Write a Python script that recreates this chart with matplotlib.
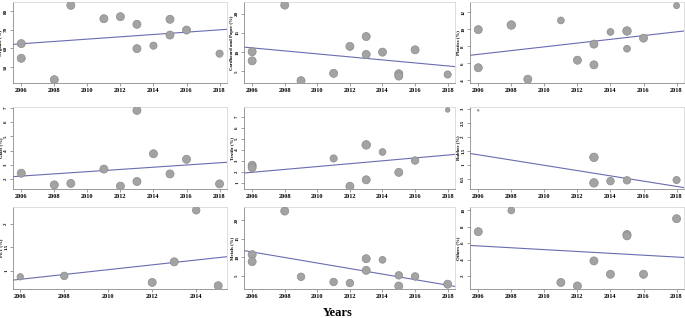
import numpy as np
import matplotlib
matplotlib.use("Agg")
import matplotlib.pyplot as plt

# values
organic_years = [2006, 2006, 2008, 2009, 2011, 2012, 2013, 2013, 2014, 2015, 2015, 2016, 2018]
organic_vals = [62.6, 54.7, 43.2, 83.2, 76.0, 77.1, 73.0, 59.9, 61.5, 75.7, 67.2, 69.9, 57.2]
organic_sizes = [25, 25, 25, 25, 25, 25, 25, 25, 20, 25, 25, 25, 20]
organic_trend = [62.2, 70.3]

paper_years = [2006, 2006, 2008, 2009, 2011, 2012, 2013, 2013, 2014, 2015, 2015, 2016, 2018]
paper_vals = [10.1, 7.75, 22.2, 2.6, 4.5, 11.5, 14.05, 9.4, 10.0, 4.4, 3.8, 10.6, 4.2]
paper_sizes = [25, 25, 25, 25, 25, 25, 25, 25, 25, 25, 25, 25, 20]
paper_trend = [11.3, 6.25]

plastic_years = [2006, 2006, 2008, 2009, 2011, 2012, 2013, 2013, 2014, 2015, 2015, 2016, 2018]
plastic_vals = [9.96, 5.49, 10.5, 4.14, 11.04, 6.37, 8.26, 5.83, 9.69, 9.80, 7.72, 8.96, 12.77]
plastic_sizes = [25, 25, 28, 25, 18, 25, 25, 25, 18, 28, 18, 25, 14]
plastic_trend = [6.95, 9.80]

glass_years = [2006, 2008, 2009, 2011, 2012, 2013, 2013, 2014, 2015, 2016, 2018]
glass_vals = [2.41, 1.59, 1.69, 2.70, 1.50, 6.83, 1.83, 3.78, 2.36, 3.39, 1.66]
glass_sizes = [25] * 11
glass_trend = [2.17, 3.18]

textile_years = [2006, 2006, 2011, 2012, 2013, 2013, 2014, 2015, 2016, 2018]
textile_vals = [2.61, 2.39, 3.23, 0.69, 4.47, 1.28, 3.82, 1.96, 3.04, 7.66]
textile_sizes = [25, 25, 20, 25, 28, 25, 18, 25, 22, 8]
textile_trend = [1.90, 3.60]

rubber_years = [2006, 2013, 2013, 2014, 2015, 2018]
rubber_vals = [2.94, 1.26, 0.35, 0.41, 0.44, 0.45]
rubber_sizes = [1, 28, 28, 22, 22, 20]
rubber_trend = [1.40, 0.18]

pet_years = [2006, 2008, 2012, 2013, 2014, 2015]
pet_vals = [0.87, 0.89, 0.75, 1.19, 2.29, 0.68]
pet_sizes = [16, 22, 25, 25, 22, 25]
pet_trend = [0.80, 1.30]

metal_years = [2006, 2006, 2008, 2009, 2011, 2012, 2013, 2013, 2014, 2015, 2015, 2016, 2018]
metal_vals = [10.7, 8.8, 22.5, 4.7, 3.3, 3.0, 9.6, 6.45, 9.3, 5.1, 2.2, 4.8, 2.7]
metal_sizes = [25, 25, 25, 22, 22, 22, 25, 25, 18, 22, 25, 22, 25]
metal_trend = [11.8, 2.1]

other_years = [2006, 2008, 2011, 2012, 2013, 2014, 2015, 2015, 2016, 2018]
other_vals = [7.38, 9.96, 1.21, 0.79, 3.83, 2.21, 7.04, 6.88, 2.21, 8.96]
other_sizes = [25, 18, 25, 25, 25, 25, 25, 25, 25, 25]
other_trend = [5.71, 4.25]

ylabels = ["Organic (%)", "Cardboard and Paper (%)", "Plastics (%)",
           "Glass (%)", "Textile (%)", "Rubber (%)",
           "PET (%)", "Metals (%)", "Others (%)"]
yticks = [[50, 60, 70, 80], [5, 10, 15, 20], [4, 6, 8, 10, 12],
          [2, 3, 4, 5, 6, 7], [1, 2, 3, 4, 5, 6, 7], [0.5, 1.0, 1.5, 2.0, 2.5, 3.0],
          [1, 1.5, 2], [5, 10, 15, 20], [2, 4, 6, 8, 10]]
ylims = [(41.4, 85.0), (2.0, 23.0), (3.7, 13.2),
         (1.3, 7.07), (0.44, 7.93), (0.13, 3.06),
         (0.61, 2.36), (1.4, 23.6), (0.42, 10.38)]
xticks_all = [2006, 2008, 2010, 2012, 2014, 2016, 2018]
xticks_pet = [2006, 2008, 2010, 2012, 2014]

panels = [
    (organic_years, organic_vals, organic_sizes, organic_trend),
    (paper_years, paper_vals, paper_sizes, paper_trend),
    (plastic_years, plastic_vals, plastic_sizes, plastic_trend),
    (glass_years, glass_vals, glass_sizes, glass_trend),
    (textile_years, textile_vals, textile_sizes, textile_trend),
    (rubber_years, rubber_vals, rubber_sizes, rubber_trend),
    (pet_years, pet_vals, pet_sizes, pet_trend),
    (metal_years, metal_vals, metal_sizes, metal_trend),
    (other_years, other_vals, other_sizes, other_trend),
]

W, H = 685, 318
fig = plt.figure(figsize=(W / 100, H / 100), dpi=100)

col_lr = [(13, 227), (244, 455), (470, 684)]
row_tb = [(2, 83), (107, 189), (207, 289)]

for i, (yrs, vals, sizes, trend) in enumerate(panels):
    r, c = divmod(i, 3)
    l, rr = col_lr[c]
    t, b = row_tb[r]
    ax = fig.add_axes([l / W, 1 - b / H, (rr - l) / W, (b - t) / H])

    if i == 6:
        xlim = (2005.67, 2015.4)
        xt = xticks_pet
    else:
        xlim = (2005.5, 2018.45)
        xt = xticks_all

    ax.scatter(yrs, vals, s=[1.35 * s for s in sizes], color="#a3a3a3",
               edgecolors="#8c8c8c", linewidths=0.5, zorder=3)
    ax.plot(xlim, trend, color="#6a6cb0", lw=0.8, zorder=2)

    ax.set_xlim(xlim)
    ax.set_ylim(ylims[i])
    ax.set_xticks(xt)
    ax.set_xticklabels([str(x) for x in xt], fontsize=4.5,
                       fontweight="bold", family="Liberation Serif")
    ax.set_yticks(yticks[i])
    ax.set_yticklabels([f"{v:g}" for v in yticks[i]], fontsize=3.6,
                       fontweight="bold", family="Liberation Serif", rotation=90,
                       va="center")
    ax.set_ylabel(ylabels[i], fontsize=3.4, fontweight="bold",
                  family="Liberation Serif", labelpad=1)
    ax.tick_params(axis="both", length=2, width=0.5, color="#777777", pad=1.5)
    for side in ["top", "right"]:
        ax.spines[side].set_color("#d8d8d8")
        ax.spines[side].set_linewidth(0.6)
    for side in ["left", "bottom"]:
        ax.spines[side].set_color("#8a8a8a")
        ax.spines[side].set_linewidth(0.6)

fig.text(338 / W, 1 - 313 / H, "Years", ha="center", va="center",
         fontsize=9, fontweight="bold", family="Liberation Serif")

fig.savefig("out.png", dpi=100)
